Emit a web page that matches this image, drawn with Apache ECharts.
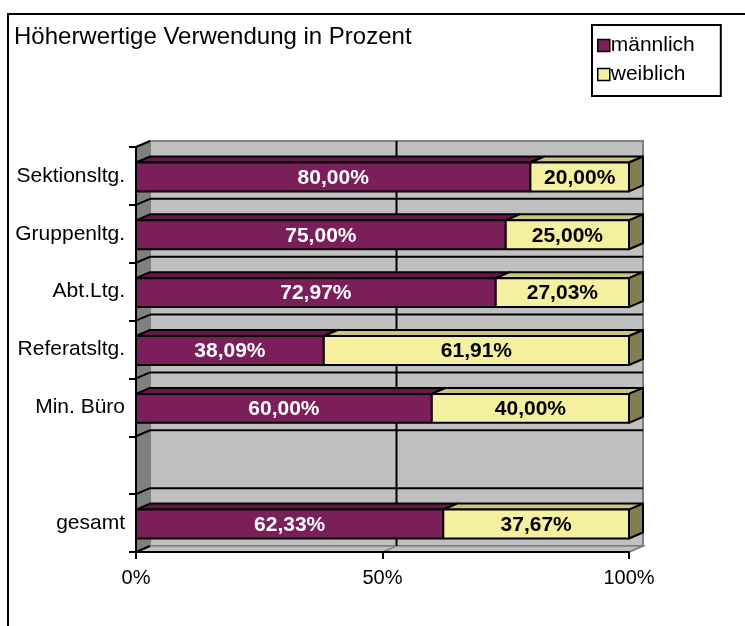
<!DOCTYPE html>
<html>
<head>
<meta charset="utf-8">
<script src="https://cdn.jsdelivr.net/npm/echarts@6/dist/echarts.min.js"></script>
<style>
html,body{margin:0;padding:0;background:#fff;}
#chart{width:745px;height:626px;}
</style>
</head>
<body>
<div id="chart"></div>
<script>
// ---- data ----
const titleText = 'Höherwertige Verwendung in Prozent';
const categories = ['gesamt', '', 'Min. Büro', 'Referatsltg.', 'Abt.Ltg.', 'Gruppenltg.', 'Sektionsltg.'];
const maennlich = [62.33, null, 60.00, 38.09, 72.97, 75.00, 80.00];
const weiblich  = [37.67, null, 40.00, 61.91, 27.03, 25.00, 20.00];
const seriesNames = ['männlich', 'weiblich'];
const xTicks = [0, 50, 100];

// ---- styles ----
const FONT = '"Liberation Sans", Arial, sans-serif';
const DX = 14, DY = 6;
const colM = '#7a1f5a', colMTop = '#641849', colMSide = '#4a1036';
const colW = '#f4f0a0', colWTop = '#c9c57d', colWSide = '#817e50';

function fmt(v) { return v.toFixed(2).replace('.', ',') + '%'; }

const maleData = maennlich.map((v, i) => v == null ? [i, null, null, null] : [i, 0, v, v]);
const femaleData = weiblich.map((v, i) => v == null ? [i, null, null, null] : [i, maennlich[i], maennlich[i] + v, v]);

function barRenderer(front, top, side, textColor, isLast) {
  return function (params, api) {
    const s = api.value(1);
    if (s == null || isNaN(s)) return null;
    const ci = api.value(0), e = api.value(2), v = api.value(3);
    const p0 = api.coord([s, ci]), p1 = api.coord([e, ci]);
    const band = api.size([0, 1])[1];
    const h = band * 0.5;
    const y0 = p0[1] - h / 2 + 1, y1 = p0[1] + h / 2 + 1;
    const x0 = p0[0], x1 = p1[0];
    const st = { stroke: '#000', lineWidth: 2, lineJoin: 'round' };
    const children = [
      { type: 'polygon', shape: { points: [[x0, y0], [x0 + DX, y0 - DY], [x1 + DX, y0 - DY], [x1, y0]] }, style: Object.assign({ fill: top }, st) },
      { type: 'rect', shape: { x: x0, y: y0, width: x1 - x0, height: y1 - y0 }, style: Object.assign({ fill: front }, st) },
      { type: 'text', style: { text: fmt(v), x: (x0 + x1) / 2, y: (y0 + y1) / 2 + 1, align: 'center', verticalAlign: 'middle', font: 'bold 21px ' + FONT, fill: textColor } }
    ];
    if (isLast) {
      children.splice(1, 0, { type: 'polygon', shape: { points: [[x1, y0], [x1 + DX, y0 - DY], [x1 + DX, y1 - DY], [x1, y1]] }, style: Object.assign({ fill: side }, st) });
    }
    return { type: 'group', children };
  };
}

function wallRenderer(params, api) {
  const n = categories.length;
  const band = api.size([0, 1])[1];
  const x0 = api.coord([xTicks[0], 0])[0];
  const x1 = api.coord([xTicks[xTicks.length - 1], 0])[0];
  const yBot = api.coord([0, 0])[1] + band / 2;
  const yTop = api.coord([0, n - 1])[1] - band / 2;
  const ch = [];
  ch.push({ type: 'polygon', shape: { points: [[x0, yTop], [x0 + DX, yTop - DY], [x0 + DX, yBot - DY], [x0, yBot]] }, style: { fill: '#808080', stroke: '#606060', lineWidth: 1 } });
  ch.push({ type: 'rect', shape: { x: x0 + DX, y: yTop - DY, width: x1 - x0, height: yBot - yTop }, style: { fill: '#c0c0c0', stroke: '#808080', lineWidth: 2 } });
  ch.push({ type: 'polygon', shape: { points: [[x0, yBot], [x0 + DX, yBot - DY], [x1 + DX, yBot - DY], [x1, yBot]] }, style: { fill: '#c0c0c0', stroke: '#808080', lineWidth: 1.5 } });
  for (let k = 0; k <= n; k++) {
    const y = yBot - k * band;
    if (k > 0 && k < n) {
      ch.push({ type: 'line', shape: { x1: x0 + DX, y1: y - DY, x2: x1 + DX, y2: y - DY }, style: { stroke: '#000', lineWidth: 2 } });
    }
    ch.push({ type: 'line', shape: { x1: x0, y1: y, x2: x0 + DX, y2: y - DY }, style: { stroke: '#000', lineWidth: 2 } });
  }
  xTicks.forEach((t, i) => {
    const x = api.coord([t, 0])[0];
    if (i > 0 && i < xTicks.length - 1) {
      ch.push({ type: 'line', shape: { x1: x + DX, y1: yTop - DY, x2: x + DX, y2: yBot - DY }, style: { stroke: '#000', lineWidth: 2 } });
    }
    if (i > 0) {
      ch.push({ type: 'line', shape: { x1: x, y1: yBot, x2: x + DX, y2: yBot - DY }, style: { stroke: '#808080', lineWidth: 1.5 } });
    }
  });
  return { type: 'group', children: ch };
}

const chart = echarts.init(document.getElementById('chart'), null, { renderer: 'canvas' });
chart.setOption({
  backgroundColor: '#fff',
  animation: false,
  textStyle: { fontFamily: FONT },
  title: {
    text: titleText, left: 9, top: 20,
    textStyle: { fontSize: 24, fontWeight: 'normal', color: '#000', fontFamily: FONT }
  },
  legend: {
    orient: 'vertical', left: 592, top: 25,
    data: seriesNames,
    icon: 'rect', itemWidth: 12, itemHeight: 12, itemGap: 8,
    borderColor: '#000', borderWidth: 2, padding: [10, 26, 11, 5],
    textStyle: { fontSize: 21, color: '#000', fontFamily: FONT, padding: [0, 0, 0, -4] },
    itemStyle: { borderColor: '#000', borderWidth: 1.5 }
  },
  graphic: [{
    type: 'rect', z: 100, silent: true,
    shape: { x: 8, y: 14, width: 760, height: 640 },
    style: { fill: 'none', stroke: '#000', lineWidth: 2 }
  }],
  grid: { left: 136, right: 116, top: 147, bottom: 74, containLabel: false },
  xAxis: {
    type: 'value', min: 0, max: 100, interval: 50, z: 2,
    axisLine: { show: true, lineStyle: { color: '#000', width: 2 } },
    axisTick: { show: true, length: 7, lineStyle: { color: '#000', width: 2 } },
    axisLabel: { formatter: '{value}%', fontSize: 20, color: '#000', margin: 16, fontFamily: FONT },
    splitLine: { show: false }
  },
  yAxis: {
    type: 'category', data: categories, z: 2,
    axisLine: { show: true, lineStyle: { color: '#000', width: 2 } },
    axisTick: { show: true, length: 7, lineStyle: { color: '#000', width: 2 } },
    axisLabel: { fontSize: 21, color: '#000', margin: 11, fontFamily: FONT },
    splitLine: { show: false }
  },
  series: [
    { type: 'custom', name: 'walls', z: 1, silent: true, data: [[0, 0]], renderItem: wallRenderer, clip: false },
    { type: 'custom', name: seriesNames[0], z: 3, data: maleData, renderItem: barRenderer(colM, colMTop, colMSide, '#fff', false), itemStyle: { color: colM }, clip: false, encode: { x: [1, 2], y: 0 } },
    { type: 'custom', name: seriesNames[1], z: 3, data: femaleData, renderItem: barRenderer(colW, colWTop, colWSide, '#000', true), itemStyle: { color: colW }, clip: false, encode: { x: [1, 2], y: 0 } }
  ]
});
</script>
</body>
</html>
